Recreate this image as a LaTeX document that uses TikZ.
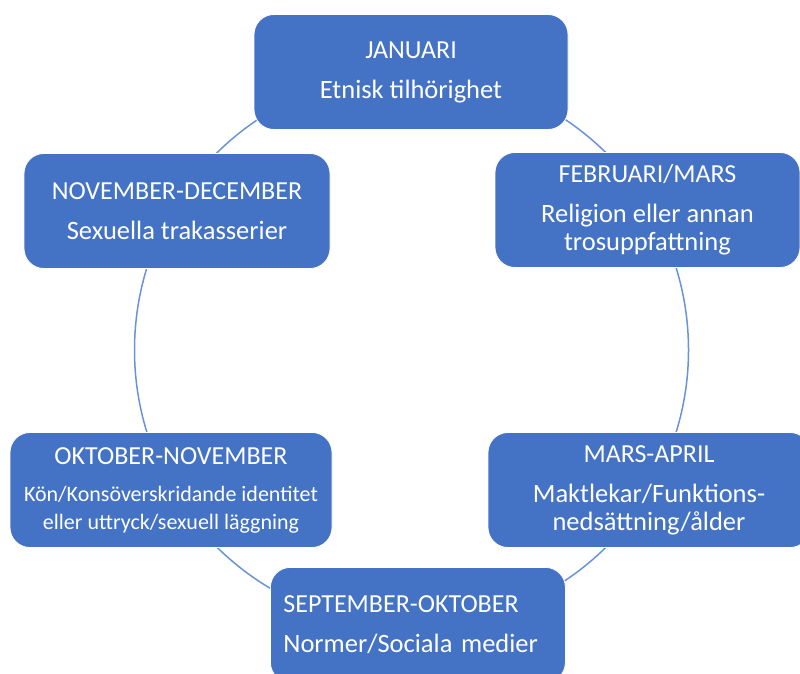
\documentclass[tikz,border=0pt]{standalone}
\usepackage{fontspec}
\setmainfont{Carlito}
\usepackage{tikz}
\definecolor{wheelBlue}{HTML}{4472C4}
\definecolor{wheelRing}{HTML}{6A92D8}
\newcommand{\bodyfont}{\fontsize{26.5}{28}\selectfont}
\newcommand{\smallbody}{\fontsize{22}{26}\selectfont}

\begin{document}
\begin{tikzpicture}[
  x=1pt,y=-1pt,
  month/.style={draw=white,line width=0.8pt,fill=wheelBlue,text=white,rounded corners=20pt,
    align=center,minimum height=115pt,inner sep=0pt,font=\fontsize{26}{28}\selectfont},
  ring/.style={draw=wheelRing,line width=1.5pt}
]
\useasboundingbox (0,0) rectangle (800,674);
\clip (0,0) rectangle (800,674);
% the year wheel
\coordinate (hub) at (411.5,350);
\draw[ring] (hub) circle[radius=277pt];
\node[month,minimum width=314pt] (jan) at (411,72) {JANUARI\\[12pt]\bodyfont Etnisk tilhörighet};
\node[month,minimum width=305pt] (feb) at (647.5,210)
  {FEBRUARI/MARS\\[12pt]\bodyfont Religion eller annan\\\bodyfont trosuppfattning};
\node[month,minimum width=322pt] (mar) at (649,490)
  {MARS-APRIL\\[12pt]\bodyfont Maktlekar/Funktions-\\\bodyfont nedsättning/ålder};
\node[month,anchor=north west,text width=269pt,align=left,inner xsep=13pt] (sep) at (270,567)
  {SEPTEMBER-OKTOBER\\[12pt]\bodyfont Normer/Sociala medier};
\node[month,minimum width=322pt] (okt) at (171,490)
  {OKTOBER-NOVEMBER\\[9pt]\smallbody Kön/Konsöverskridande identitet\\\smallbody eller uttryck/sexuell läggning};
\node[month,minimum width=306pt] (nov) at (177,211) {NOVEMBER-DECEMBER\\[12pt]\bodyfont Sexuella trakasserier};
\end{tikzpicture}
\end{document}
